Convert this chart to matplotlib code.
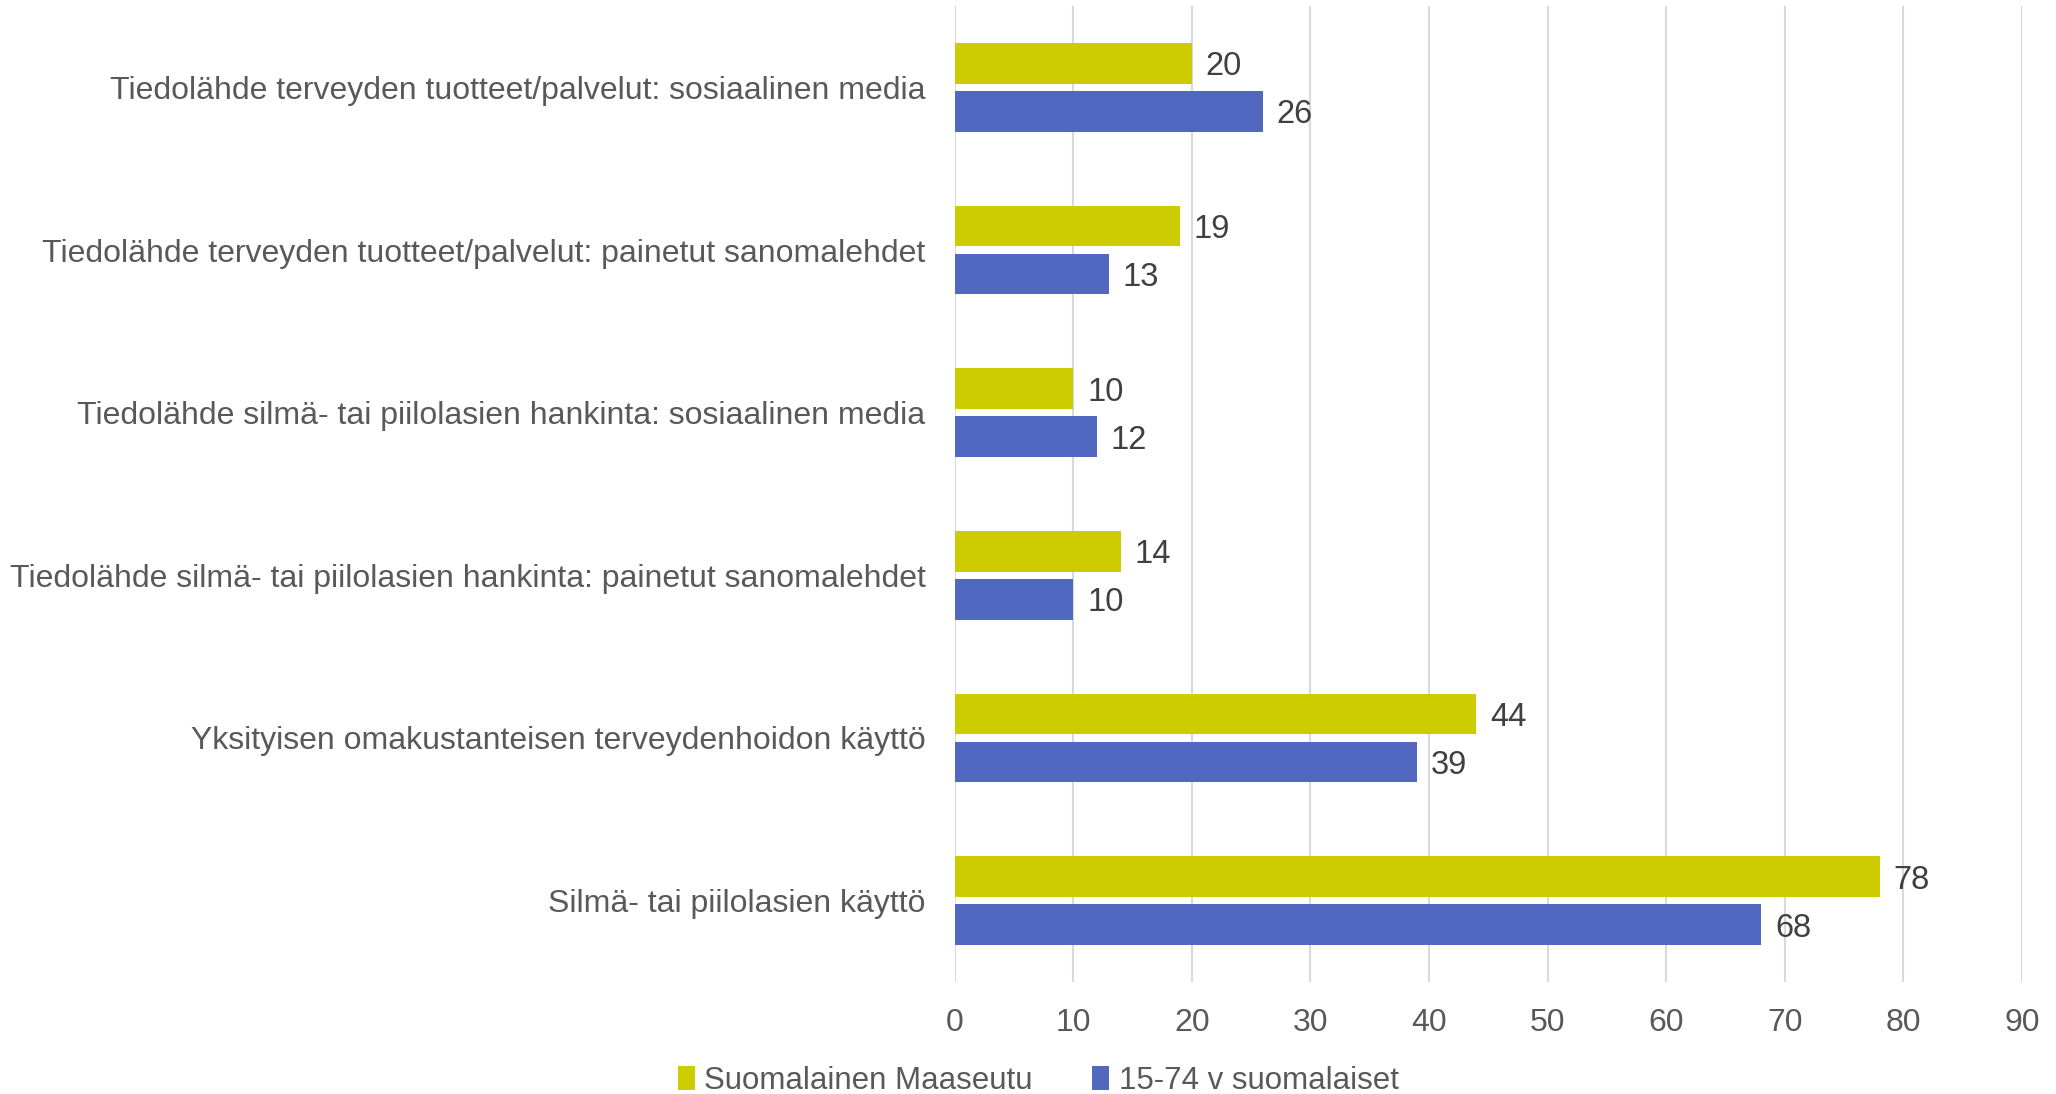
import matplotlib.pyplot as plt
import numpy as np

plt.rcParams['font.family'] = ['Liberation Sans', 'DejaVu Sans']

categories = [
    "Tiedolähde terveyden tuotteet/palvelut: sosiaalinen media",
    "Tiedolähde terveyden tuotteet/palvelut: painetut sanomalehdet",
    "Tiedolähde silmä- tai piilolasien hankinta: sosiaalinen media",
    "Tiedolähde silmä- tai piilolasien hankinta: painetut sanomalehdet",
    "Yksityisen omakustanteisen terveydenhoidon käyttö",
    "Silmä- tai piilolasien käyttö",
]
maaseutu = [20, 19, 10, 14, 44, 78]
suomalaiset = [26, 13, 12, 10, 39, 68]
series_names = ["Suomalainen Maaseutu", "15-74 v suomalaiset"]
xticks = [0, 10, 20, 30, 40, 50, 60, 70, 80, 90]

yellow = '#CCCC00'
blue = '#5068C0'

fig = plt.figure(figsize=(20.56, 10.94), dpi=100)
ax = fig.add_axes([0.4643, 0.1024, 0.5192, 0.8921])

y = np.arange(len(categories))
h = 0.25
off = 0.148
b1 = ax.barh(y - off, maaseutu, height=h, color=yellow, label=series_names[0], zorder=3)
b2 = ax.barh(y + off, suomalaiset, height=h, color=blue, label=series_names[1], zorder=3)

for bars in (b1, b2):
    for rect in bars:
        w = rect.get_width()
        ax.annotate(f"{w:g}", (w, rect.get_y() + rect.get_height() / 2),
                    xytext=(10, -2.5), textcoords='offset points',
                    ha='left', va='center', fontsize=23.5, color='#404040')

ax.set_ylim(len(categories) - 0.5, -0.5)
ax.set_xlim(0, 90)
ax.set_xticks(xticks)
ax.set_yticks(y)
ax.set_yticklabels(categories)
ax.tick_params(axis='y', length=0, pad=21, labelsize=23, labelcolor='#595959')
ax.tick_params(axis='x', length=0, pad=19, labelsize=23, labelcolor='#595959')
ax.grid(axis='x', color='#D9D9D9', linewidth=1.5, zorder=0)
for s in ax.spines.values():
    s.set_visible(False)

fig.legend(loc='center', bbox_to_anchor=(0.505, 0.012), ncol=2, frameon=False,
           fontsize=22.5, labelcolor='#595959', handlelength=0.55, handleheight=0.8,
           handletextpad=0.3, columnspacing=1.9)

fig.savefig('out.png', dpi=100)
